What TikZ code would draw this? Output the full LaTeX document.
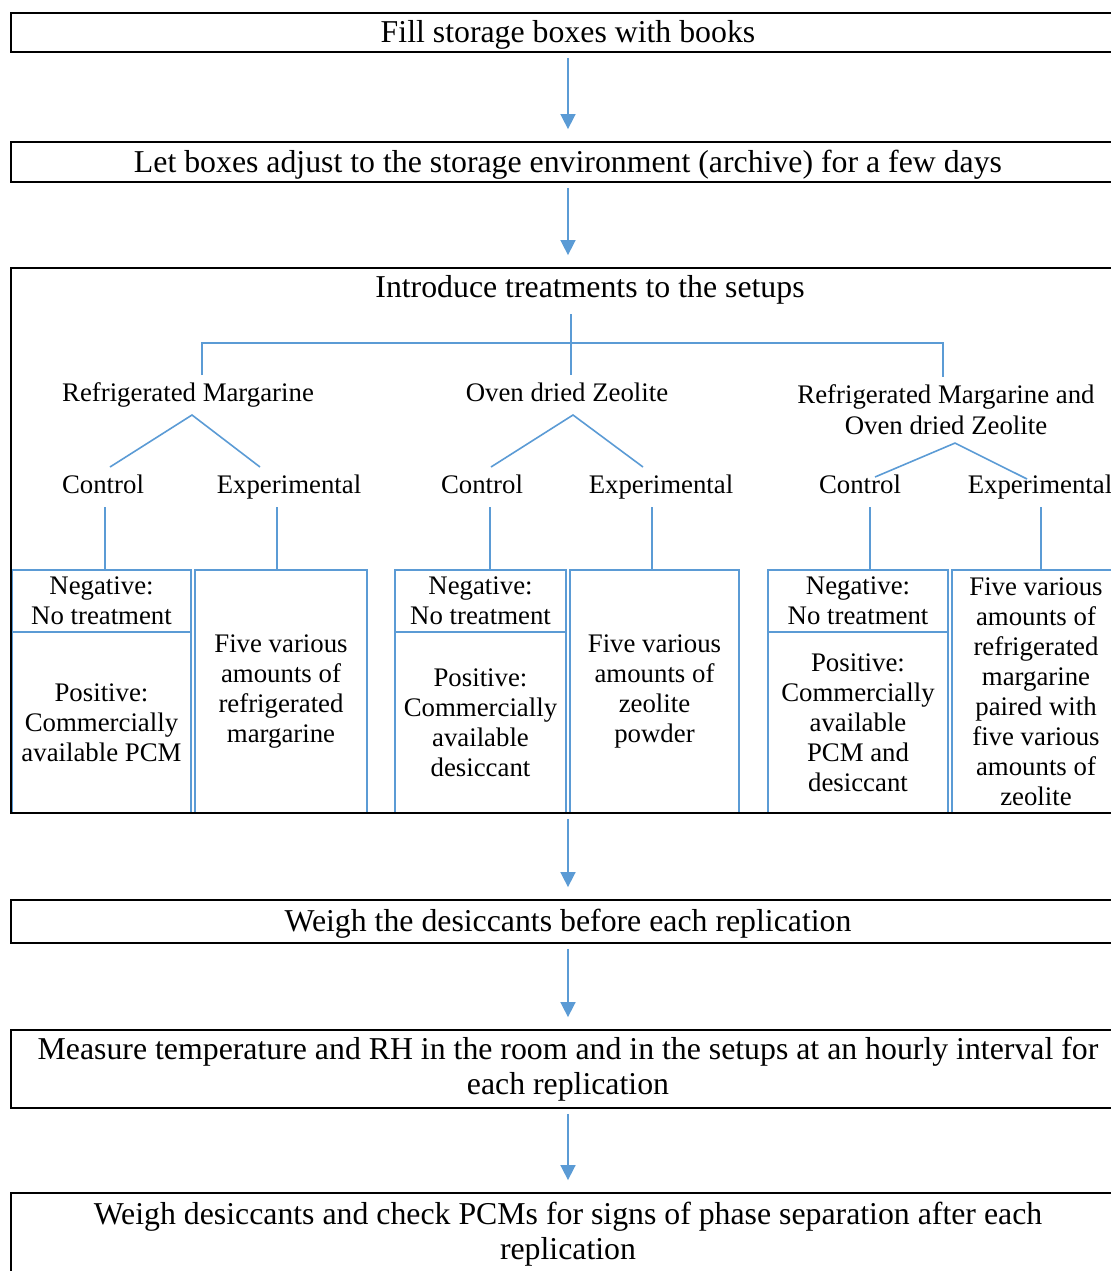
\documentclass[tikz,border=0pt]{standalone}
\usepackage{fontspec}
\setmainfont{Liberation Serif}
\usetikzlibrary{arrows.meta}
\definecolor{linkblue}{HTML}{5B9BD5}

\begin{document}
\begin{tikzpicture}[x=0.5pt, y=-0.5pt, every node/.style={font=\fontsize{13.4}{15}\selectfont},
    stepbox/.style={draw=black, line width=0.9pt, minimum width=557pt, inner sep=0pt, align=center, font=\fontsize{15.9}{17.5}\selectfont},
    cell/.style={draw=linkblue, line width=0.8pt, inner sep=0pt, align=center},
    branch/.style={inner sep=0pt, outer sep=4pt, text height=9pt, text depth=3pt},
    tree/.style={linkblue, line width=0.8pt},
    flow/.style={-{Triangle[length=7.5pt,width=7.5pt]}, linkblue, line width=0.8pt, shorten <=2.5pt, shorten >=6pt}]
        \useasboundingbox (0,0) rectangle (1111,1271);
        \node[stepbox, minimum height=19.5pt, text depth=1pt] (fill) at (568,32.5) {Fill storage boxes with books};
        \node[stepbox, minimum height=20pt, text depth=1pt] (adjust) at (568,162) {Let boxes adjust to the storage environment (archive) for a few days};
        \node[inner sep=0pt, outer sep=5pt, font=\fontsize{15.9}{17.5}\selectfont] (intro) at (590,290) {Introduce treatments to the setups};
        \coordinate (hub) at (571,343);
        \node[branch] (treatA) at (188,395) {Refrigerated Margarine};
        \node[branch] (treatB) at (567,395) {Oven dried Zeolite};
        \node[inner sep=0pt, outer sep=4pt, align=center, font=\fontsize{13.4}{15.5}\selectfont] (treatC) at (946,410) {Refrigerated Margarine and\\Oven dried Zeolite};
        \node[branch] (ctrlA) at (103,487) {Control};
        \node[branch] (expA) at (289,487) {Experimental};
        \node[branch] (ctrlB) at (482,487) {Control};
        \node[branch] (expB) at (661,487) {Experimental};
        \node[branch] (ctrlC) at (860,487) {Control};
        \node[branch] (expC) at (1040,487) {Experimental};
        \node[cell, minimum width=89.5pt, minimum height=31pt] (negA) at (101.5,601) {Negative:\\No treatment};
        \node[cell, minimum width=89.5pt, minimum height=90.5pt] (posA) at (101.5,722.5) {Positive:\\Commercially\\available PCM};
        \node[cell, minimum width=86pt, minimum height=121.5pt] (fiveA) at (281,691.5) {Five various\\amounts of\\refrigerated\\margarine};
        \node[cell, minimum width=85.5pt, minimum height=31pt] (negB) at (480.5,601) {Negative:\\No treatment};
        \node[cell, minimum width=85.5pt, minimum height=90.5pt] (posB) at (480.5,722.5) {Positive:\\Commercially\\available\\desiccant};
        \node[cell, minimum width=84.5pt, minimum height=121.5pt] (fiveB) at (654.5,691.5) {Five various\\amounts of\\zeolite\\powder};
        \node[cell, minimum width=90pt, minimum height=31pt] (negC) at (858,601) {Negative:\\No treatment};
        \node[cell, minimum width=90pt, minimum height=90.5pt] (posC) at (858,722.5) {Positive:\\Commercially\\available\\PCM and\\desiccant};
        \node[cell, minimum width=84pt, minimum height=121.5pt] (fiveC) at (1036,691.5) {Five various\\amounts of\\refrigerated\\margarine\\paired with\\five various\\amounts of\\zeolite};
        \node[stepbox, minimum height=272.5pt] (setups) at (568,540.5) {};
        \node[stepbox, minimum height=21.5pt, text depth=1pt] (weighA) at (568,921.5) {Weigh the desiccants before each replication};
        \node[stepbox, minimum height=39pt] (measure) at (568,1069) {Measure temperature and RH in the room and in the setups at an hourly interval for\\each replication};
        \node[stepbox, minimum height=41pt] (weighB) at (568,1234) {Weigh desiccants and check PCMs for signs of phase separation after each\\replication};
        \draw[tree] (hub |- intro.south) -- ([xshift=2pt]treatB.north);
        \draw[tree] ([xshift=7pt]treatA.north) |- (hub) -| ([xshift=-1.5pt]treatC.north);
        \draw[tree] ([xshift=3.5pt]ctrlA.north) -- ([xshift=2pt]treatA.south) -- ([xshift=-14.5pt]expA.north);
        \draw[tree] ([xshift=4.5pt]ctrlB.north) -- ([xshift=3pt]treatB.south) -- ([xshift=-9pt]expB.north);
        \draw[tree] ([xshift=7.5pt,yshift=-5pt]ctrlC.north) -- ([xshift=4.5pt]treatC.south) -- ([xshift=-6.5pt,yshift=-6pt]expC.north);
        \foreach \x/\s/\y in {ctrlA/1pt/negA,expA/-6pt/fiveA,ctrlB/4pt/negB,expB/-4.5pt/fiveB,ctrlC/5pt/negC,expC/0.5pt/fiveC}{\draw[tree] ([xshift=\s]\x.south) -- ([xshift=\s]\x.south |- \y.north);}
        \foreach \x/\y in {fill/adjust,adjust/setups,setups/weighA,weighA/measure,measure/weighB}{\draw[flow] (\x.south) -- (\y.north);}
      \end{tikzpicture}
\end{document}
